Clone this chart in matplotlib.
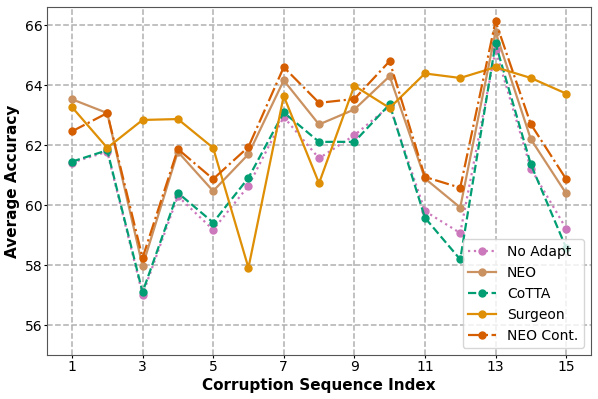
import matplotlib
matplotlib.use("Agg")
import matplotlib.pyplot as plt

# corruption sequence index
idx = list(range(1, 16))

no_adapt = [61.42, 61.78, 57.02, 60.30, 59.18, 60.64, 62.94, 61.56, 62.33, 63.30, 59.80, 59.07, 65.17, 61.22, 59.22]
neo = [63.53, 63.07, 57.97, 61.78, 60.47, 61.70, 64.16, 62.69, 63.19, 64.30, 60.89, 59.92, 65.78, 62.20, 60.39]
cotta = [61.45, 61.83, 57.10, 60.41, 59.42, 60.91, 63.09, 62.11, 62.11, 63.36, 59.58, 58.19, 65.39, 61.36, 58.58]
surgeon = [63.27, 61.91, 62.84, 62.87, 61.91, 57.91, 63.64, 60.73, 63.98, 63.24, 64.39, 64.24, 64.60, 64.24, 63.72]
neo_cont = [62.46, 63.07, 58.24, 61.87, 60.87, 61.94, 64.60, 63.41, 63.54, 64.80, 60.94, 60.58, 66.13, 62.70, 60.87]

fig, ax = plt.subplots(figsize=(5.98, 3.99), dpi=100)

ax.plot(idx, no_adapt, ':', marker='o', ms=5, lw=1.6, color='#cc78bc', label='No Adapt')
ax.plot(idx, neo, '-', marker='o', ms=5, lw=1.6, color='#ca9161', label='NEO')
ax.plot(idx, cotta, '--', marker='o', ms=5, lw=1.6, color='#029e73', label='CoTTA')
ax.plot(idx, surgeon, '-', marker='o', ms=5, lw=1.6, color='#de8f05', label='Surgeon')
ax.plot(idx, neo_cont, '-.', marker='o', ms=5, lw=1.6, color='#d55e00', label='NEO Cont.')

ax.set_xticks(range(1, 16, 2))
ax.set_yticks(range(56, 67, 2))
ax.set_ylim(55, 66.6)
ax.tick_params(labelsize=10, length=2, pad=1.5)
ax.set_xlabel('Corruption Sequence Index', fontsize=11, fontweight='bold', labelpad=3)
ax.set_ylabel('Average Accuracy', fontsize=11, fontweight='bold', labelpad=3)
ax.grid(True, linestyle='--', color='#b0b0b0', lw=1.1)
for s in ax.spines.values():
    s.set_color('#555555')
ax.legend(loc='lower right', fontsize=10)

fig.subplots_adjust(left=0.079, right=0.988, top=0.982, bottom=0.11)
fig.savefig('out.png')
